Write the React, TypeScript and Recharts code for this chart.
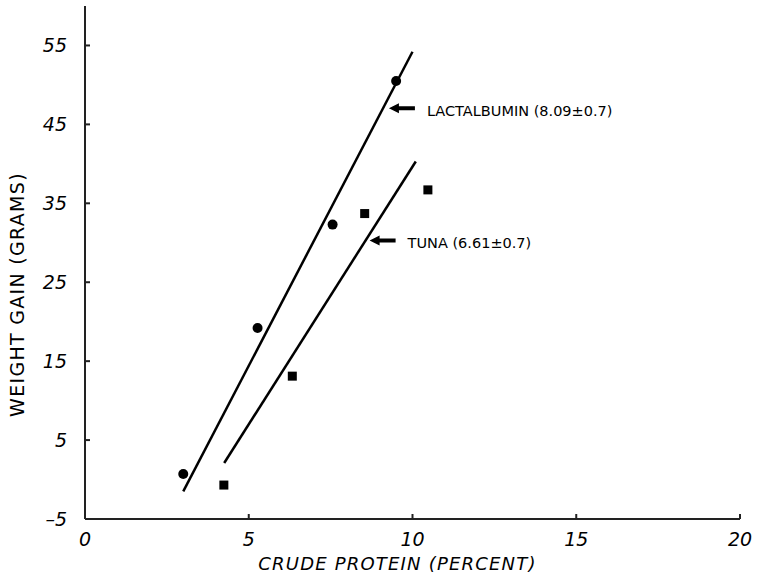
import {
  ScatterChart,
  Scatter,
  XAxis,
  YAxis,
  Label,
} from "recharts";

const lactalbuminPoints = [
  { x: 3.0, y: 0.7 },
  { x: 5.27, y: 19.2 },
  { x: 7.56, y: 32.3 },
  { x: 9.5, y: 50.5 },
];

const tunaPoints = [
  { x: 4.24, y: -0.7 },
  { x: 6.33, y: 13.1 },
  { x: 8.54, y: 33.7 },
  { x: 10.47, y: 36.7 },
];

// fitted regression lines (end points)
const lactalbuminFit = [
  { x: 3.0, y: -1.5 },
  { x: 10.0, y: 54.2 },
];

const tunaFit = [
  { x: 4.25, y: 2.1 },
  { x: 10.1, y: 40.3 },
];

const callouts = [
  { x: 9.28, y: 47.05, label: "LACTALBUMIN (8.09\u00b10.7)" },
  { x: 8.69, y: 30.3, label: "TUNA (6.61\u00b10.7)" },
];

const xTicks = [0, 5, 10, 15, 20];
const yTicks = [-5, 5, 15, 25, 35, 45, 55];

const FONT = "'DejaVu Sans', sans-serif";

const Dot = (props: any) => (
  <circle cx={props.cx} cy={props.cy} r={5} fill="#000" />
);

const Square = (props: any) => (
  <rect x={props.cx - 4.5} y={props.cy - 4.5} width={9} height={9} fill="#000" />
);

const Nothing = () => <g />;

const Callout = (props: any) => {
  const { cx, cy, payload } = props;
  return (
    <g>
      <polygon
        points={`${cx},${cy} ${cx + 10},${cy - 5} ${cx + 10},${cy - 2} ${cx + 26},${cy - 2} ${cx + 26},${cy + 2} ${cx + 10},${cy + 2} ${cx + 10},${cy + 5}`}
        fill="#000"
      />
      <text
        x={cx + 38}
        y={cy + 8}
        fontSize={14.5}
        fontFamily={FONT}
        fill="#000"
      >
        {payload.label}
      </text>
    </g>
  );
};

const fmtY = (v: number) => (v < 0 ? "\u2013" + Math.abs(v) : String(v));

export default function App() {
  return (
    <div style={{ position: "absolute", left: 0, top: 0, background: "#fff" }}>
      <ScatterChart
        width={758}
        height={584}
        margin={{ top: 6, right: 18, bottom: 0, left: 25 }}
      >
        <XAxis
          type="number"
          dataKey="x"
          domain={[0, 20]}
          ticks={xTicks}
          height={65}
          allowDataOverflow
          stroke="#222"
          strokeWidth={2}
          tickSize={-5}
          tickMargin={19}
          tick={{ fill: "#000", fontSize: 19, fontStyle: "italic", fontFamily: FONT }}
        >
          <Label
            content={({ viewBox }: any) => (
              <text
                x={viewBox.x + viewBox.width / 2 - 15}
                y={viewBox.y + 51}
                textAnchor="middle"
                fontSize={18}
                letterSpacing={1.2}
                fontStyle="italic"
                fontFamily={FONT}
                fill="#000"
              >
                CRUDE PROTEIN (PERCENT)
              </text>
            )}
          />
        </XAxis>
        <YAxis
          type="number"
          dataKey="y"
          domain={[-5, 60]}
          ticks={yTicks}
          width={60}
          allowDataOverflow
          stroke="#222"
          strokeWidth={2}
          tickSize={-5}
          tickMargin={23}
          tickFormatter={fmtY}
          tick={{ fill: "#000", fontSize: 19, fontStyle: "italic", fontFamily: FONT }}
        >
          <Label
            content={({ viewBox }: any) => {
              const cx = 17;
              const cy = viewBox.y + viewBox.height / 2 + 32;
              return (
                <text
                  x={cx}
                  y={cy}
                  transform={`rotate(-90, ${cx}, ${cy})`}
                  textAnchor="middle"
                  dominantBaseline="central"
                  fontSize={19}
                  letterSpacing={1.3}
                  fontFamily={FONT}
                  fill="#000"
                >
                  WEIGHT GAIN (GRAMS)
                </text>
              );
            }}
          />
        </YAxis>
        <Scatter
          data={lactalbuminFit}
          line={{ stroke: "#000", strokeWidth: 2.5 }}
          shape={<Nothing />}
          isAnimationActive={false}
        />
        <Scatter
          data={tunaFit}
          line={{ stroke: "#000", strokeWidth: 2.5 }}
          shape={<Nothing />}
          isAnimationActive={false}
        />
        <Scatter data={lactalbuminPoints} shape={<Dot />} isAnimationActive={false} />
        <Scatter data={tunaPoints} shape={<Square />} isAnimationActive={false} />
        <Scatter data={callouts} shape={<Callout />} isAnimationActive={false} />
      </ScatterChart>
    </div>
  );
}
